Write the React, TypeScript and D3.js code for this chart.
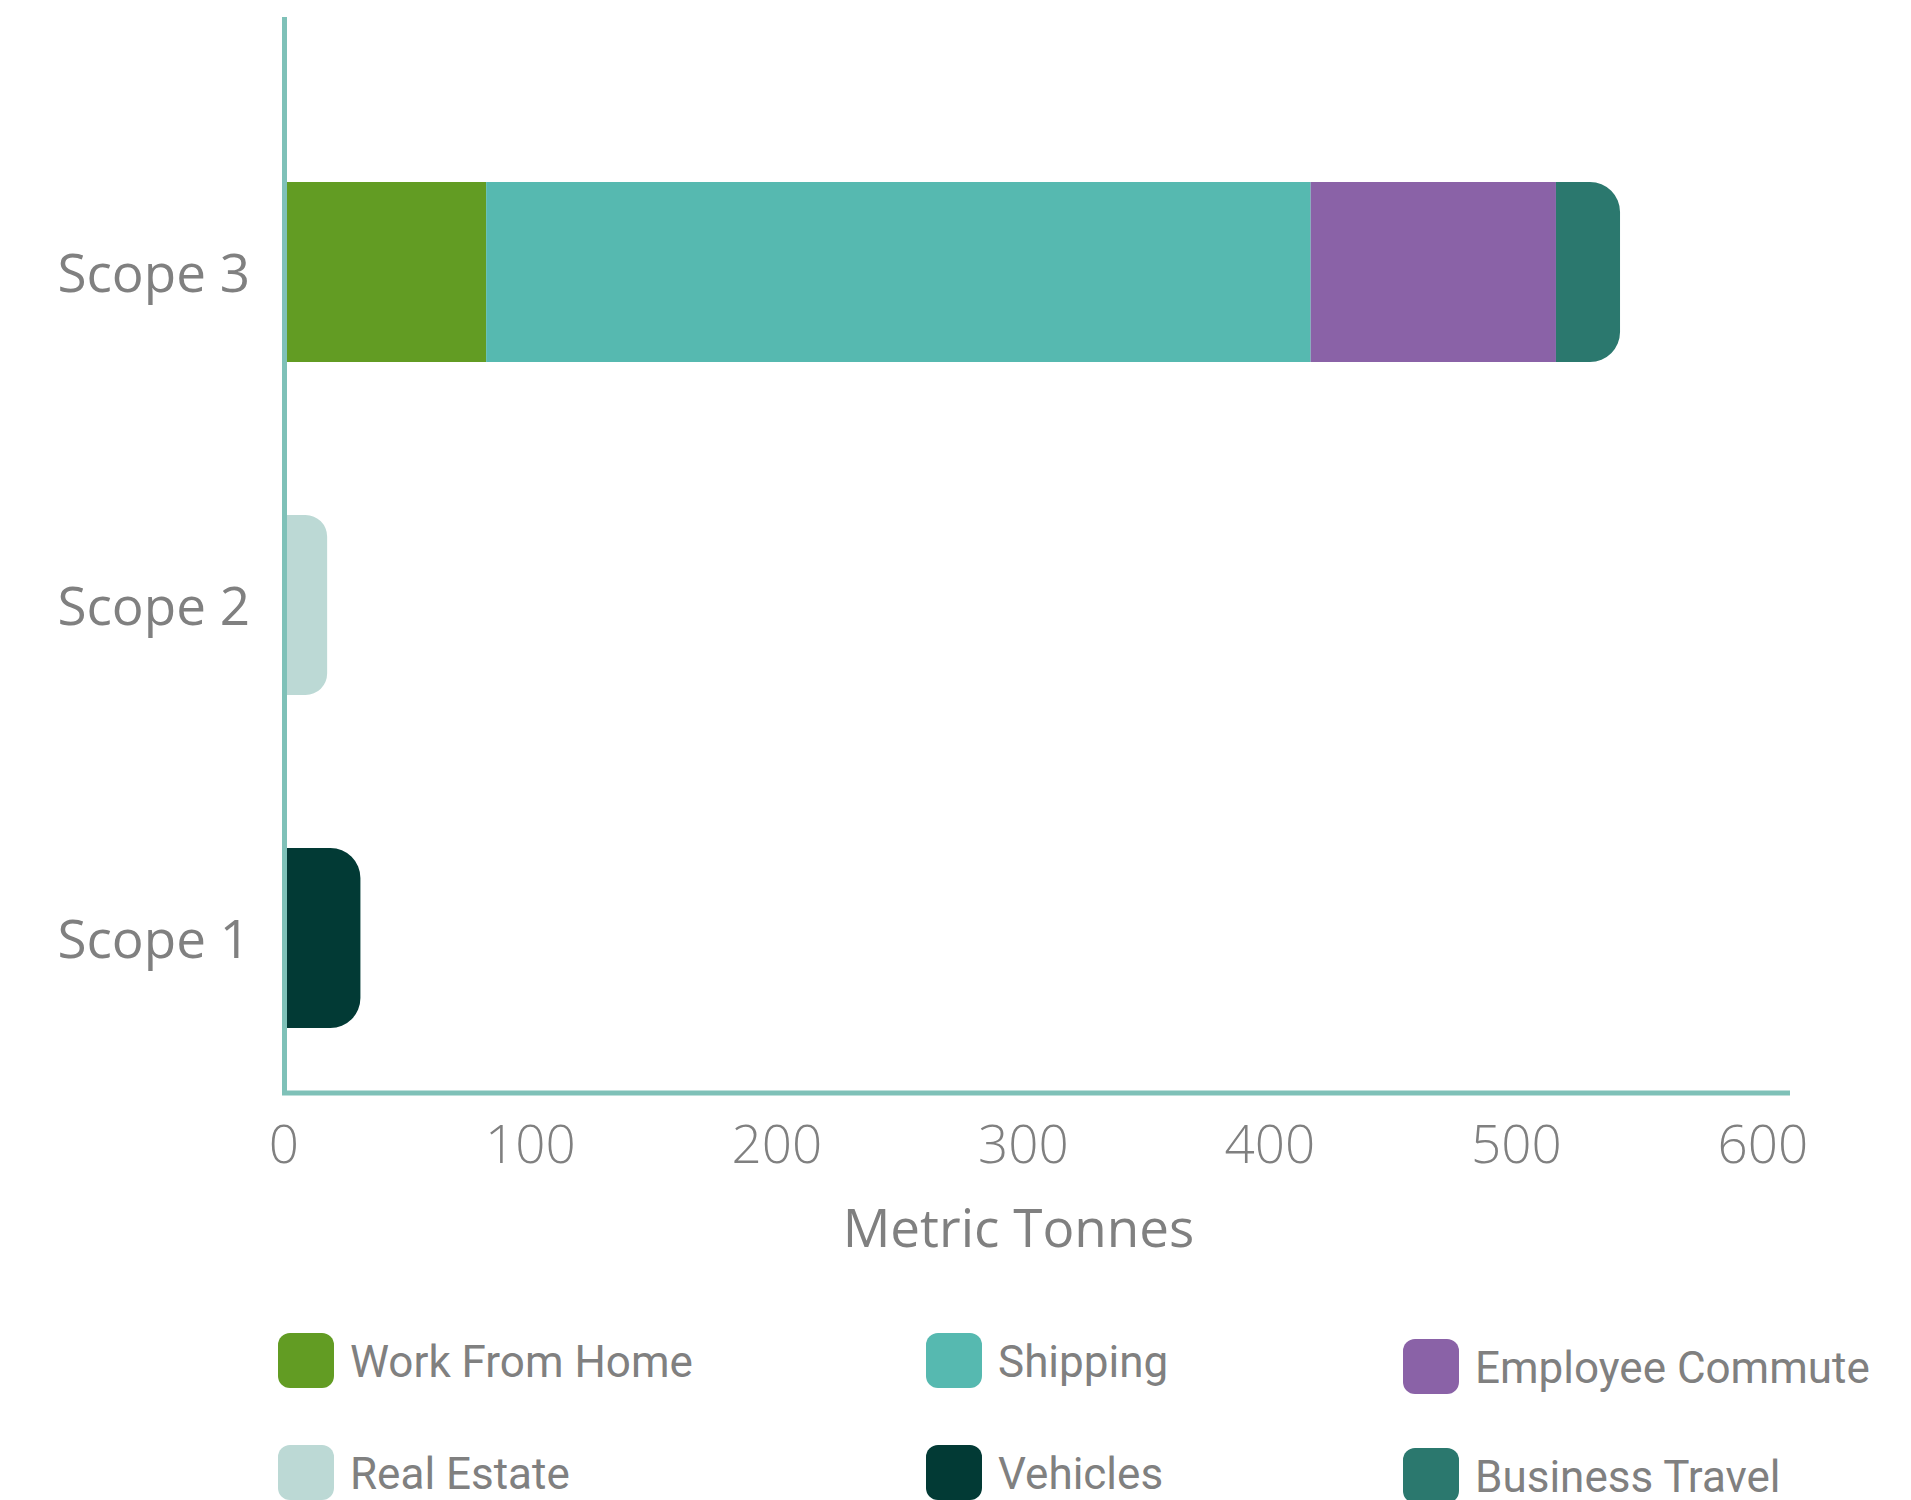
import React from "react";
import * as d3 from "d3";

const categories = ["Scope 3", "Scope 2", "Scope 1"];
const seriesNames = ["Work From Home", "Shipping", "Employee Commute", "Real Estate", "Vehicles", "Business Travel"];
const seriesColors = ["#629c23", "#56b9b0", "#8a62a7", "#bcd9d5", "#023a35", "#2b786e"];
// values per category for each series (order: Scope 3, Scope 2, Scope 1)
const workFromHome = [82, 0, 0];
const shipping = [334.5, 0, 0];
const employeeCommute = [99.5, 0, 0];
const realEstate = [0, 17.5, 0];
const vehicles = [0, 0, 31];
const businessTravel = [26, 0, 0];
const stackOrder = ["Work From Home", "Shipping", "Employee Commute", "Business Travel", "Real Estate", "Vehicles"];
const xTicks = [0, 100, 200, 300, 400, 500, 600];
const xTitle = "Metric Tonnes";

const W = 1911;
const H = 1500;

export default function App() {
  const valuesBySeries: Record<string, number[]> = {
    "Work From Home": workFromHome,
    Shipping: shipping,
    "Employee Commute": employeeCommute,
    "Real Estate": realEstate,
    Vehicles: vehicles,
    "Business Travel": businessTravel,
  };
  const colorOf = d3.scaleOrdinal<string, string>().domain(seriesNames).range(seriesColors);

  const x = d3.scaleLinear().domain([0, 600]).range([284, 1763]);
  const y = d3.scalePoint<string>().domain(categories).range([272, 938]);
  const barH = 180;
  const axisColor = "#7fc1b8";
  const textColor = "#808080";

  const rows = categories.map((c, i) => {
    const obj: any = { cat: c };
    stackOrder.forEach((s) => (obj[s] = valuesBySeries[s][i]));
    return obj;
  });
  const stack = d3.stack<any>().keys(stackOrder)(rows);

  const segs: { key: string; cat: string; x0: number; x1: number; last: boolean }[] = [];
  categories.forEach((cat, ci) => {
    const list: { key: string; x0: number; x1: number }[] = [];
    stack.forEach((layer) => {
      const d = layer[ci];
      if (d[1] - d[0] > 0) list.push({ key: layer.key, x0: d[0], x1: d[1] });
    });
    list.forEach((s, k) => segs.push({ ...s, cat, last: k === list.length - 1 }));
  });

  const segPath = (x0: number, x1: number, yTop: number, h: number, round: boolean) => {
    const px0 = x(x0);
    const px1 = x(x1);
    if (!round) return `M${px0},${yTop}H${px1}V${yTop + h}H${px0}Z`;
    const r = Math.min(30, (px1 - px0) / 2, h / 2);
    return `M${px0},${yTop}H${px1 - r}A${r},${r} 0 0 1 ${px1},${yTop + r}V${yTop + h - r}A${r},${r} 0 0 1 ${px1 - r},${yTop + h}H${px0}Z`;
  };

  const legendCols = [278, 926, 1403];
  const legendRows = [1333, 1445];
  const legendColOffset = [[0, 0, 6], [0, 0, 3]];

  return (
    <svg width={W} height={H} style={{ position: "absolute", left: 0, top: 0, display: "block", background: "#fff" }}>
      {segs.map((s, i) => (
        <path
          key={i}
          d={segPath(s.x0, s.x1, (y(s.cat) as number) - barH / 2, barH, s.last)}
          fill={colorOf(s.key)}
        />
      ))}
      {/* axes */}
      <line x1={284.5} x2={284.5} y1={17} y2={1095} stroke={axisColor} strokeWidth={5} />
      <line x1={282} x2={1790} y1={1093} y2={1093} stroke={axisColor} strokeWidth={5} />
      {categories.map((c) => (
        <text
          key={c}
          x={250}
          y={(y(c) as number) + 20}
          textAnchor="end"
          fontFamily="'Open Sans', sans-serif"
          fontSize={53}
          fill={textColor}
        >
          {c}
        </text>
      ))}
      {xTicks.map((t) => (
        <text
          key={t}
          x={x(t)}
          y={1163}
          textAnchor="middle"
          fontFamily="'Open Sans', sans-serif"
          fontWeight={300}
          fontSize={53}
          fill={textColor}
        >
          {t}
        </text>
      ))}
      <text
        x={(x(0) + x(600)) / 2 - 5}
        y={1247}
        textAnchor="middle"
        fontFamily="'Open Sans', sans-serif"
        fontSize={53}
        fill={textColor}
      >
        {xTitle}
      </text>
      {seriesNames.map((s, i) => {
        const col = i % 3;
        const row = Math.floor(i / 3);
        const lx = legendCols[col];
        const ly = legendRows[row] + legendColOffset[row][col];
        return (
          <g key={s}>
            <rect x={lx} y={ly} width={56} height={55} rx={12} ry={12} fill={colorOf(s)} />
            <text
              x={lx + 72}
              y={ly + 44}
              fontFamily="Roboto, sans-serif"
              fontSize={44}
              fill={textColor}
            >
              {s}
            </text>
          </g>
        );
      })}
    </svg>
  );
}
